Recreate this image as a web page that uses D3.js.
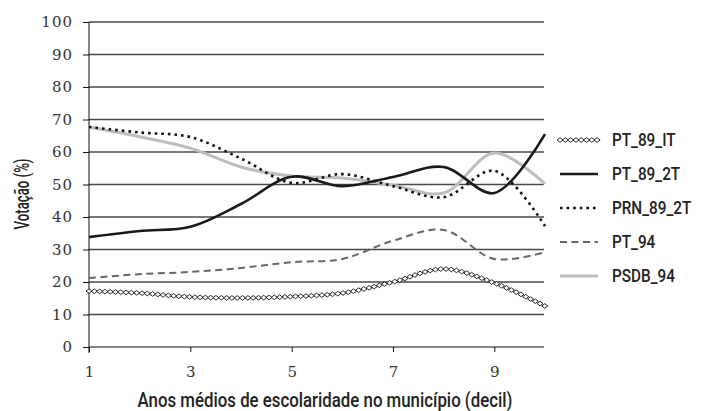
<!DOCTYPE html>
<html>
<head>
<meta charset="utf-8">
<script src="https://cdn.jsdelivr.net/npm/d3@7"></script>
<style>
  body { margin: 0; background: #fff; }
</style>
</head>
<body>
<svg id="chart" width="701" height="411"></svg>
<script>
// decil de escolaridade
const decis = [1, 2, 3, 4, 5, 6, 7, 8, 9, 10];
// votação (%) por série
const pt89_1t  = [17.2, 16.6, 15.4, 15.1, 15.5, 16.6, 20.0, 24.0, 19.7, 12.6];
const pt89_2t  = [33.8, 35.7, 37.0, 44.0, 52.4, 49.5, 52.3, 55.4, 47.4, 65.5];
const prn89_2t = [67.7, 66.0, 64.6, 58.0, 50.5, 53.2, 49.5, 46.1, 54.2, 37.2];
const pt94     = [21.2, 22.4, 23.1, 24.3, 26.1, 27.1, 32.7, 36.0, 27.1, 29.2];
const psdb94   = [67.7, 64.7, 61.2, 55.4, 52.6, 52.0, 49.8, 47.4, 59.7, 50.2];
const seriesNames = ["PT_89_IT", "PT_89_2T", "PRN_89_2T", "PT_94", "PSDB_94"];
const yTicks = d3.range(0, 101, 10);
const xTicks = [1, 3, 5, 7, 9];

const margin = { top: 22, right: 156, bottom: 64, left: 89 };
const width = 701, height = 411;
const condFont = "Roboto, 'DejaVu Sans Condensed', sans-serif";
const numFont = "'DejaVu Serif', 'Liberation Serif', 'Noto Serif', serif";

const svg = d3.select("#chart");

const x = d3.scaleLinear().domain([1, 10]).range([margin.left, width - margin.right]);
const y = d3.scaleLinear().domain([0, 100]).range([height - margin.bottom, margin.top]);

// text squeezed along its baseline to a target length (fake condensed face)
function condensedText(tx, ty, angle, size, str, target) {
  const g = svg.append("g").attr("transform", `translate(${tx},${ty}) rotate(${angle})`);
  const t = g.append("text")
    .attr("text-anchor", "middle")
    .style("font-family", condFont).style("font-weight", 500).style("font-size", size + "px")
    .attr("fill", "#222")
    .text(str);
  const L = t.node().getComputedTextLength();
  t.attr("transform", `scale(${target / L},1)`);
  return t;
}

// gridlines
svg.append("g")
  .selectAll("line")
  .data(yTicks.filter(d => d > 0))
  .join("line")
  .attr("x1", x(1)).attr("x2", x(10) - 1)
  .attr("y1", d => y(d)).attr("y2", d => y(d))
  .attr("stroke", "#4a4a4a").attr("stroke-width", 1.3);

// y axis
svg.append("g")
  .attr("transform", `translate(${x(1)},0)`)
  .call(d3.axisLeft(y).tickValues(yTicks).tickSize(6).tickSizeOuter(0).tickPadding(10))
  .call(g => g.select(".domain").attr("d", `M0,${y(100)}V${y(0) + 6}`).attr("stroke", "#111"))
  .call(g => g.selectAll(".tick line").attr("stroke", "#111"))
  .call(g => g.selectAll(".tick text")
    .style("font-family", numFont).style("font-size", "15px")
    .style("letter-spacing", "1px").attr("fill", "#333"));

// x axis
svg.append("g")
  .attr("transform", `translate(0,${y(0)})`)
  .call(d3.axisBottom(x).tickValues(xTicks).tickSize(5).tickSizeOuter(0).tickPadding(14))
  .call(g => g.select(".domain").attr("d", `M${x(1)},0H${x(10) - 1}`).attr("stroke", "#111"))
  .call(g => g.selectAll(".tick line").attr("stroke", "#111"))
  .call(g => g.selectAll(".tick text")
    .style("font-family", numFont).style("font-size", "15px").attr("fill", "#333"));

// titles
condensedText(325, 407, 0, 20, "Anos médios de escolaridade no município (decil)", 375);
condensedText(29, 194, -90, 20, "Votação (%)", 71);

const line = d3.line()
  .x((d, i) => x(decis[i]))
  .y(d => y(d))
  .curve(d3.curveCatmullRom.alpha(0.5));

const styles = [
  { data: pt89_1t, stroke: "none", width: 0, dash: null, diamonds: true },
  { data: pt89_2t, stroke: "#1a1a1a", width: 2.6, dash: null },
  { data: prn89_2t, stroke: "#111", width: 2.6, dash: "2.6 4" },
  { data: pt94, stroke: "#666", width: 2, dash: "7 4.5" },
  { data: psdb94, stroke: "#bdbdbd", width: 3, dash: null }
];

function diamondsAlong(g, pathNode, step) {
  const len = pathNode.getTotalLength();
  const pts = d3.range(0, len + 0.1, step).map(l => pathNode.getPointAtLength(l));
  g.selectAll("path.dia")
    .data(pts)
    .join("path")
    .attr("class", "dia")
    .attr("d", p => `M${p.x - 3},${p.y}L${p.x},${p.y - 2.3}L${p.x + 3},${p.y}L${p.x},${p.y + 2.3}Z`)
    .attr("fill", "#fff").attr("stroke", "#111").attr("stroke-width", 0.9);
}

// draw order: back to front
[4, 3, 0, 2, 1].forEach(k => {
  const s = styles[k];
  const g = svg.append("g");
  const p = g.append("path")
    .attr("d", line(s.data))
    .attr("fill", "none")
    .attr("stroke", s.stroke)
    .attr("stroke-width", s.width)
    .attr("stroke-dasharray", s.dash);
  if (s.diamonds) diamondsAlong(g, p.node(), 5.3);
});

// legend
const legend = svg.append("g");
seriesNames.forEach((name, k) => {
  const s = styles[k];
  const ly = 140 + k * 34;
  const g = legend.append("g");
  const p = g.append("path")
    .attr("d", `M560,${ly}H598`)
    .attr("fill", "none")
    .attr("stroke", s.stroke)
    .attr("stroke-width", s.width)
    .attr("stroke-dasharray", s.dash);
  if (s.diamonds) diamondsAlong(g, p.node(), 5.3);
  // condensed look via horizontal scale
  g.append("text")
    .attr("transform", `translate(612,${ly}) scale(0.85,1)`)
    .attr("dy", "0.36em")
    .style("font-family", condFont).style("font-weight", 500).style("font-size", "18px")
    .attr("fill", "#222")
    .text(name);
});
</script>
</body>
</html>
